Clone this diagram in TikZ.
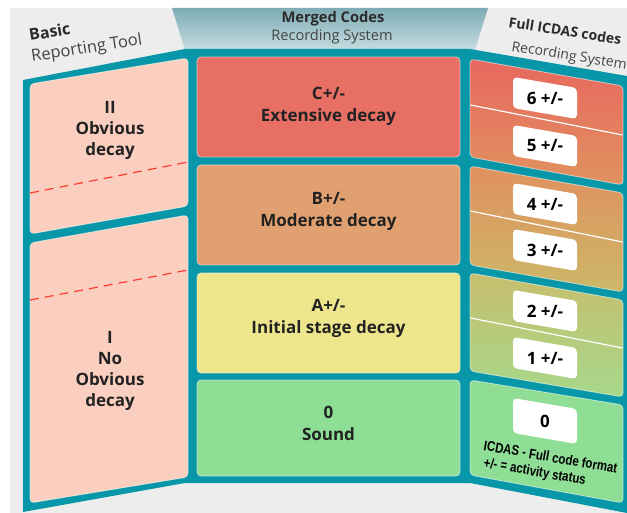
\documentclass[tikz,border=0pt]{standalone}
\usepackage{fontspec}
\usepackage{graphicx}
\setmainfont{Open Sans}
\newfontfamily\narrowfont{Liberation Sans}
\definecolor{frameteal}{HTML}{0897A8}
\definecolor{bggrey}{HTML}{EDEDED}
\definecolor{peach}{HTML}{FBCFC0}
\definecolor{cRed}{HTML}{E86F64}
\definecolor{cOrange}{HTML}{E0A070}
\definecolor{cYellow}{HTML}{EEE68C}
\definecolor{cGreen}{HTML}{8EDE96}
\definecolor{hdrTop}{HTML}{7EABB4}
\definecolor{hdrBot}{HTML}{C6DDE1}
\definecolor{txt}{HTML}{222222}
\definecolor{hdrtxt}{HTML}{2A2A2A}
\definecolor{hdrlight}{HTML}{444444}
\definecolor{dashred}{HTML}{FF3B30}
\definecolor{rA}{HTML}{E8685F}
\definecolor{rB}{HTML}{E0925F}
\definecolor{rC}{HTML}{E0905E}
\definecolor{rD}{HTML}{CCB868}
\definecolor{rE}{HTML}{C8BE6E}
\definecolor{rF}{HTML}{A6D88A}
\begin{document}
\begin{tikzpicture}[x=1pt,y=-1pt,
  panel/.style={rounded corners=4pt, draw=white, draw opacity=0.55, line width=0.8pt},
  maintext/.style={font=\fontsize{17}{22}\selectfont\bfseries, text=txt, align=center},
  lefttext/.style={font=\fontsize{17}{21}\selectfont\bfseries, text=txt, align=center},
  codetext/.style={font=\fontsize{17}{18}\selectfont\bfseries, text=black},
  hdrbold/.style={font=\fontsize{14}{16}\selectfont\bfseries, text=hdrtxt},
  hdrreg/.style={font=\fontsize{14}{16}\selectfont, text=hdrlight},
  notetext/.style={font=\narrowfont\fontsize{14}{16}\selectfont\bfseries, text=black},
  reddash/.style={draw=dashred, dash pattern=on 9pt off 6pt, line width=1.2pt},
  divider/.style={draw=white, line width=1.2pt}
]
\useasboundingbox (0,0) rectangle (627,513);
\fill[bggrey] (10,8) rectangle (627,513);
% header trapezoid
\shade[top color=hdrTop,bottom color=hdrBot] (172,8) -- (488,8) -- (475,50) -- (185,50) -- cycle;
% teal frame
\fill[frameteal] (23,80) -- (185,49) -- (470,49) -- (627,76) -- (627,513) -- (470,483) -- (185,483) -- (23,512) -- cycle;

% left panels
\fill[peach, panel] (30,84) -- (188,58) -- (188,206) -- (30,234) -- cycle;
\fill[peach, panel] (30,243) -- (188,215) -- (188,477) -- (30,503) -- cycle;
\draw[reddash] (30,193) -- (188,162);
\draw[reddash] (30,300) -- (188,270);

% center panels
\fill[cRed, panel] (197,57) rectangle (460,157);
\fill[cOrange, panel] (197,165) rectangle (460,265);
\fill[cYellow, panel] (197,273) rectangle (460,373);
\fill[cGreen, panel] (197,380) rectangle (460,476);

% right panels
\shade[top color=rA, bottom color=rB, panel] (470,59) -- (623,86) -- (623,185) -- (470,157) -- cycle;
\shade[top color=rC, bottom color=rD, panel] (470,166) -- (623,193) -- (623,292) -- (470,265) -- cycle;
\shade[top color=rE, bottom color=rF, panel] (470,273) -- (623,300) -- (623,397) -- (470,371) -- cycle;
\shade[top color=cGreen!90!rF, bottom color=cGreen, panel] (470,380) -- (623,405) -- (623,503) -- (470,475) -- cycle;
\draw[divider] (470.5,105) -- (622.5,135);
\draw[divider] (470.5,211) -- (622.5,242);
\draw[divider] (470.5,318) -- (622.5,348);

% code boxes
\foreach \yy/\hh/\lab/\nm in {77/31/{6 +/-}/c6, 125/31/{5 +/-}/c5, 183/31/{4 +/-}/c4, 229/31/{3 +/-}/c3, 290/31/{2 +/-}/c2, 337/31/{1 +/-}/c1, 398/35/{0}/c0}{
  \fill[white, rounded corners=4pt] (513,\yy) -- (577,\yy+11) -- (577,\yy+11+\hh) -- (513,\yy+\hh) -- cycle;
  \node[codetext] (\nm) at (545,\yy+5.5+\hh/2) {\lab};
}

% center texts
\node[maintext] (tC) at (328.5,106) {C+/-\\Extensive decay};
\node[maintext] (tB) at (328.5,211) {B+/-\\Moderate decay};
\node[maintext] (tA) at (328.5,318) {A+/-\\Initial stage decay};
\node[maintext] (t0) at (328.5,423) {0\\Sound};

% left texts
\node[lefttext] (tII) at (110,130) {II\\Obvious\\decay};
\node[lefttext] (tI) at (110,371) {I\\No\\Obvious\\decay};

% headers
\node[hdrbold, font=\fontsize{14.7}{16}\selectfont\bfseries] (hm1) at (333,19) {Merged Codes};
\node[hdrreg, font=\fontsize{14.6}{16}\selectfont] (hm2) at (332,37) {Recording System};
\node[hdrbold, font=\fontsize{16}{18}\selectfont\bfseries, anchor=base west, rotate=9.5, inner sep=0pt] (hl1) at (30,41) {Basic};
\node[hdrreg, font=\fontsize{16.5}{18}\selectfont, anchor=base west, rotate=9, inner sep=0pt] (hl2) at (32,62) {Reporting Tool};
\node[hdrbold, anchor=base west, rotate=-9, inner sep=0pt] (hr1) at (508,27) {Full ICDAS codes};
\node[hdrreg, anchor=base west, rotate=-9, inner sep=0pt] (hr2) at (511,51) {Recording System};

% note
\node[notetext, anchor=base west, rotate=-10, inner sep=0pt] (n1) at (483,450) {\scalebox{0.82}[1]{ICDAS - Full code format}};
\node[notetext, anchor=base west, rotate=-10, inner sep=0pt] (n2) at (483,467) {\scalebox{0.82}[1]{+/- = activity status}};
\end{tikzpicture}
\end{document}
